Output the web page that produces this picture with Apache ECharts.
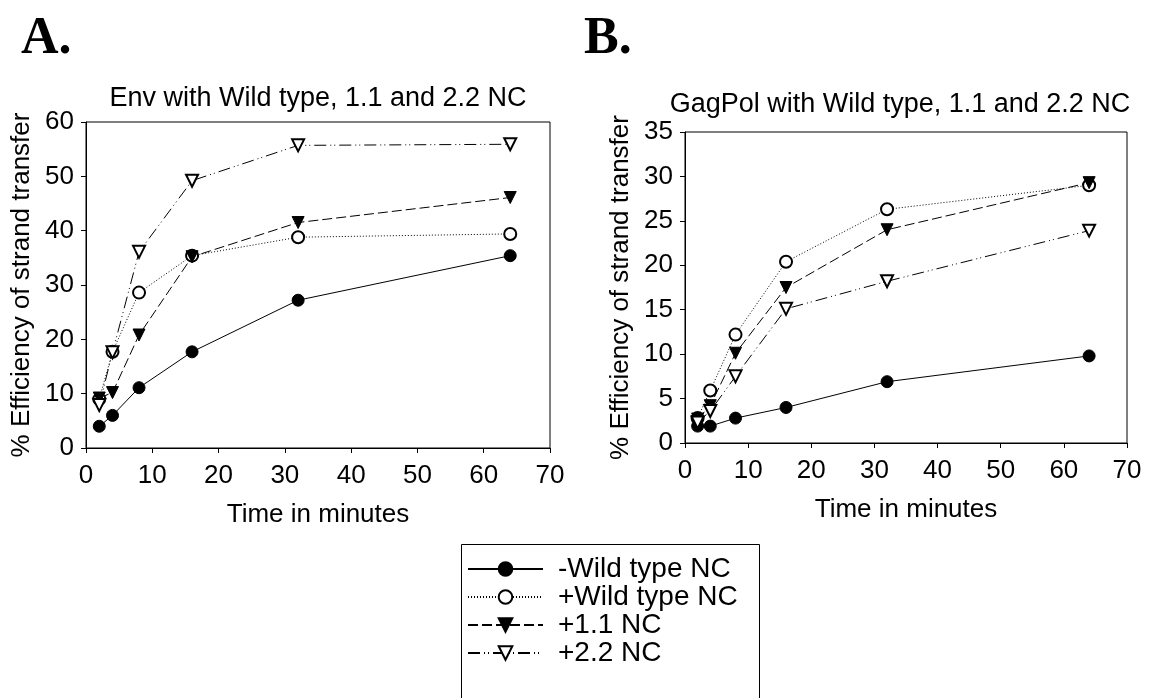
<!DOCTYPE html>
<html>
<head>
<meta charset="utf-8">
<script src="https://cdn.jsdelivr.net/npm/echarts@6/dist/echarts.min.js"></script>
<style>
  html, body { margin: 0; padding: 0; background: #fff; }
  #chart { width: 1150px; height: 698px; }
</style>
</head>
<body>
<div id="chart"></div>
<script>
// Incubation times (minutes)
const times = [2, 4, 8, 16, 32, 64];

// Panel A: Env template, % efficiency of strand transfer
const envMinusWT = [4.0, 6.0, 11.1, 17.7, 27.2, 35.4];
const envPlusWT  = [9.0, 17.7, 28.6, 35.4, 38.8, 39.4];
const env11      = [9.2, 10.2, 20.8, 35.2, 41.5, 46.1];
const env22      = [7.9, 17.6, 36.1, 49.2, 55.7, 55.9];

// Panel B: GagPol template, % efficiency of strand transfer
const gagMinusWT = [1.9, 1.9, 2.8, 4.0, 6.9, 9.8];
const gagPlusWT  = [2.8, 5.9, 12.2, 20.4, 26.3, 29.0];
const gag11      = [2.7, 4.2, 10.1, 17.5, 24.0, 29.3];
const gag22      = [2.3, 3.6, 7.5, 15.1, 18.2, 23.9];

const seriesNames = ['-Wild type NC', '+Wild type NC', '+1.1 NC', '+2.2 NC'];
const panelTitles = ['Env with Wild type, 1.1 and 2.2 NC', 'GagPol with Wild type, 1.1 and 2.2 NC'];
const panelLetters = ['A.', 'B.'];
const xAxisName = 'Time in minutes';
const yAxisName = '% Efficiency of strand transfer';

const FONT = '"Liberation Sans", Arial, Helvetica, sans-serif';
const FS = 26;
const TITLE_FS = 27;
const LEGEND_FS = 28;

// marker + dash pattern for each condition
const styles = [
  { symbol: 'circle',        rotate: 0,   dash: 'solid' },
  { symbol: 'emptyCircle',   rotate: 0,   dash: [1, 2] },
  { symbol: 'triangle',      rotate: 180, dash: [10, 4] },
  { symbol: 'emptyTriangle', rotate: 180, dash: [12, 4, 1, 3, 1, 4] }
];

function makeSeries(name, values, idx, st) {
  return {
    name: name,
    type: 'line',
    xAxisIndex: idx,
    yAxisIndex: idx,
    data: times.map((t, i) => [t, values[i]]),
    symbol: st.symbol,
    symbolRotate: st.rotate,
    symbolSize: 12,
    showAllSymbol: true,
    lineStyle: { color: '#000', width: 1, type: st.dash },
    itemStyle: { color: '#000', borderColor: '#000', borderWidth: 1 },
    emphasis: { disabled: true }
  };
}

const envData = [envMinusWT, envPlusWT, env11, env22];
const gagData = [gagMinusWT, gagPlusWT, gag11, gag22];
const series = [];
envData.forEach((d, i) => series.push(makeSeries(seriesNames[i], d, 0, styles[i])));
gagData.forEach((d, i) => series.push(makeSeries(seriesNames[i], d, 1, styles[i])));

const grids = [
  { left: 86, top: 122, width: 464, height: 326 },
  { left: 685, top: 132, width: 442, height: 311 }
];

function xAxis(gi) {
  return {
    type: 'value', gridIndex: gi, min: 0, max: 70, interval: 10,
    splitLine: { show: false },
    axisLine: { lineStyle: { color: '#000', width: 1 } },
    axisTick: { length: 5, lineStyle: { color: '#000' } },
    axisLabel: { fontSize: FS, fontFamily: FONT, color: '#000', margin: 15 },
    name: xAxisName, nameLocation: 'middle', nameGap: 54,
    nameTextStyle: { fontSize: FS, fontFamily: FONT, color: '#000' }
  };
}
function yAxis(gi, max, step) {
  return {
    type: 'value', gridIndex: gi, min: 0, max: max, interval: step,
    splitLine: { show: false },
    axisLine: { lineStyle: { color: '#000', width: 1 } },
    axisTick: { length: 5, lineStyle: { color: '#000' } },
    axisLabel: { fontSize: FS, fontFamily: FONT, color: '#000', margin: 12 },
    name: yAxisName, nameLocation: 'middle', nameGap: 51,
    nameTextStyle: { fontSize: FS, fontFamily: FONT, color: '#000' }
  };
}

const chart = echarts.init(document.getElementById('chart'), null, { renderer: 'canvas' });
chart.setOption({
  animation: false,
  backgroundColor: '#fff',
  grid: grids.map(g => Object.assign({ show: true, borderColor: '#000', borderWidth: 1, backgroundColor: 'transparent' }, g)),
  xAxis: [xAxis(0), xAxis(1)],
  yAxis: [yAxis(0, 60, 10), yAxis(1, 35, 5)],
  legend: {
    data: seriesNames,
    orient: 'vertical',
    left: 467, top: 555,
    padding: 0,
    itemWidth: 75, itemHeight: 17, itemGap: 0,
    selectedMode: false,
    textStyle: { fontSize: LEGEND_FS, fontFamily: FONT, color: '#000', padding: [0, 0, 0, 10] }
  },
  graphic: [
    { type: 'rect', left: 459, top: 542, shape: { width: 298, height: 200 },
      style: { fill: 'none', stroke: '#000', lineWidth: 1 }, silent: true },
    { type: 'text', x: 318, y: 99, style: { text: panelTitles[0], font: TITLE_FS + 'px ' + FONT, fill: '#000', textAlign: 'center', textVerticalAlign: 'middle' } },
    { type: 'text', x: 900, y: 105, style: { text: panelTitles[1], font: TITLE_FS + 'px ' + FONT, fill: '#000', textAlign: 'center', textVerticalAlign: 'middle' } },
    { type: 'text', x: 21, y: 40, style: { text: panelLetters[0], font: 'bold 52px "Liberation Serif", "Times New Roman", serif', fill: '#000', textAlign: 'left', textVerticalAlign: 'middle' } },
    { type: 'text', x: 584, y: 40, style: { text: panelLetters[1], font: 'bold 52px "Liberation Serif", "Times New Roman", serif', fill: '#000', textAlign: 'left', textVerticalAlign: 'middle' } }
  ],
  series: series
});
</script>
</body>
</html>
